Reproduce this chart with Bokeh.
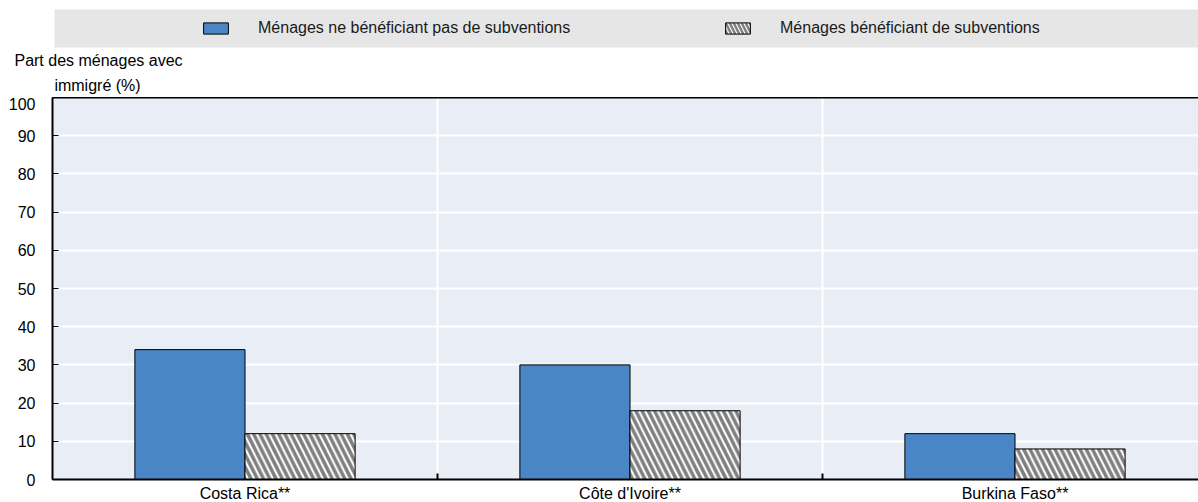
import numpy as np
from bokeh.plotting import figure
from bokeh.models import (Range1d, FixedTicker, Legend, LegendItem, Label,
                          BoxAnnotation, ColumnDataSource, LinearAxis)
from bokeh.embed import file_html
from bokeh.resources import INLINE

# ---- data ----
countries = ["Costa Rica**", "Côte d'Ivoire**", "Burkina Faso**"]
no_subsidy = [34, 30, 12]
with_subsidy = [12, 18, 8]
series_names = ["Ménages ne bénéficiant pas de subventions",
                "Ménages bénéficiant de subventions"]
y_ticks = [0, 10, 20, 30, 40, 50, 60, 70, 80, 90, 100]
y_label_lines = ["Part des ménages avec", "immigré (%)"]

FONT = "Liberation Sans"
BLUE = "#4A86C6"
BG = "#E9EDF6"

W = 1198
HEAD_H = 97

bar_w = 0.286
idx = np.arange(len(countries))
centers = idx + 0.5

src = ColumnDataSource(dict(
    country=countries,
    x_no=centers - bar_w / 2,
    x_yes=centers + bar_w / 2,
    no=no_subsidy,
    yes=with_subsidy,
))

def bar_styles(hatch_scale, hatch_weight):
    no = dict(fill_color=BLUE, line_color="black", line_width=1)
    yes = dict(fill_color="white", line_color="black", line_width=1,
               hatch_pattern="left_diagonal_line", hatch_color="#7f7f7f",
               hatch_weight=hatch_weight, hatch_scale=hatch_scale)
    return no, yes

# ---------------- header: legend band + y-axis title ----------------
head = figure(frame_width=W, frame_height=HEAD_H, min_border=0,
              x_axis_type=None, y_axis_type=None,
              x_range=Range1d(0, 3), y_range=Range1d(0, 100),
              output_backend="svg", toolbar_location=None, tools="")
head.outline_line_color = None
head.xgrid.visible = False
head.ygrid.visible = False
head.background_fill_color = "white"
head.border_fill_color = "white"

band = BoxAnnotation(left=54, right=W, top=HEAD_H - 9, bottom=HEAD_H - 47,
                     left_units="screen", right_units="screen",
                     top_units="screen", bottom_units="screen",
                     fill_color="#E6E6E6", fill_alpha=1.0, line_color=None,
                     level="underlay")
head.add_layout(band)

# legend-only renderers (not painted in the header, only their legend glyphs)
s_no, s_yes = bar_styles(8, 2.5)
l_no = head.vbar(x="x_no", top="no", width=bar_w, source=src, visible=False, **s_no)
l_yes = head.vbar(x="x_yes", top="yes", width=bar_w, source=src, visible=False, **s_yes)

legend = Legend(items=[LegendItem(label=series_names[0], renderers=[l_no]),
                       LegendItem(label=series_names[1], renderers=[l_yes])],
                orientation="horizontal",
                location=(200, HEAD_H - 38),
                padding=0, margin=0, spacing=44,
                glyph_width=31, glyph_height=14, label_standoff=27,
                label_height=20, label_width=420,
                label_text_font=FONT, label_text_font_size="16px",
                label_text_color="#1a1a1a",
                inactive_fill_alpha=0,
                background_fill_alpha=0, border_line_color=None)
head.add_layout(legend)

for line, xc, yc in zip(y_label_lines, [98, 97], [60, 85]):
    head.add_layout(Label(x=xc, y=HEAD_H - yc, x_units="screen", y_units="screen",
                          text=line, text_align="center", text_baseline="middle",
                          text_font=FONT, text_font_size="16px", text_color="black"))

# ---------------- main chart ----------------
LEFT = 52
p = figure(frame_width=W - LEFT, frame_height=382,
           min_border_left=LEFT, min_border_right=0, min_border_top=0,
           min_border_bottom=0,
           x_range=Range1d(0, (W - LEFT) / 385), y_range=Range1d(0, 100),
           output_backend="svg", toolbar_location=None, tools="")
p.background_fill_color = BG
p.border_fill_color = "white"
p.outline_line_color = None

m_no, m_yes = bar_styles(12.5, 3.5)
p.vbar(x="x_no", top="no", width=bar_w, source=src, **m_no)
p.vbar(x="x_yes", top="yes", width=bar_w, source=src, **m_yes)

p.yaxis.ticker = FixedTicker(ticks=y_ticks)
p.yaxis.major_tick_in = 6
p.yaxis.major_tick_out = 0
p.yaxis.minor_tick_line_color = None
p.yaxis.axis_line_width = 2
p.yaxis.axis_line_color = "black"
p.yaxis.major_tick_line_color = "black"
p.yaxis.major_label_standoff = 17
p.yaxis.major_label_text_font = FONT
p.yaxis.major_label_text_font_size = "16px"
p.yaxis.major_label_text_color = "black"

p.xaxis.ticker = FixedTicker(ticks=list(centers), minor_ticks=[1, 2])
p.xaxis.major_label_overrides = {float(c): n for c, n in zip(centers, countries)}
p.xaxis.major_tick_in = 0
p.xaxis.major_tick_out = 0
p.xaxis.minor_tick_in = 6
p.xaxis.minor_tick_out = 0
p.xaxis.minor_tick_line_color = "black"
p.xaxis.minor_tick_line_width = 2
p.xaxis.axis_line_width = 2
p.xaxis.axis_line_color = "black"
p.xaxis.major_label_standoff = 5
p.xaxis.major_label_text_font = FONT
p.xaxis.major_label_text_font_size = "16px"
p.xaxis.major_label_text_color = "black"

top_axis = LinearAxis(ticker=FixedTicker(ticks=[]), axis_line_width=2,
                      axis_line_color="black", major_tick_line_color=None,
                      minor_tick_line_color=None,
                      major_label_text_font_size="0px")
p.add_layout(top_axis, "above")

p.ygrid.ticker = FixedTicker(ticks=y_ticks)
p.ygrid.grid_line_color = "white"
p.ygrid.grid_line_width = 2
p.xgrid.ticker = FixedTicker(ticks=[1, 2])
p.xgrid.grid_line_color = "white"
p.xgrid.grid_line_width = 2

open("out.html", "w").write(file_html([head, p], INLINE))
